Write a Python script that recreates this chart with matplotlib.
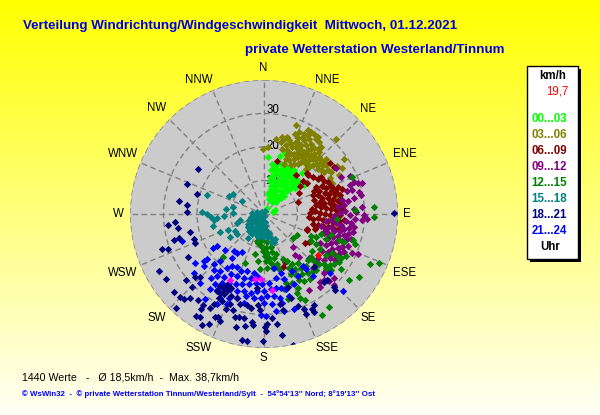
import numpy as np
import matplotlib
matplotlib.use('Agg')
import matplotlib.pyplot as plt

# wind vectors (east, north) in km/h
h00_03 = [(1.3,17.0),(4.8,17.2),(6.3,18.2),(7.8,21.2),(13.8,14.2),(11.3,12.2),(11.8,8.7),(9.3,7.7),(2.8,0.7),(3.3,1.2),(0.8,1.7),
(2.5,15),(3.2,14.2),(4,15.2),(5,14.8),(6,14.5),(7,14),(8,13.2),(9,13),(2,13.2),(3,13),(4,13.5),(5,13),(6,13.2),(7,12.5),(8,12),(9.5,11.5),
(2,11),(3,11.5),(4,11.8),(5,11.5),(6,11.2),(7,11),(8,10.8),(9,10.5),(10,10),(1.8,10),(3,10),(4.2,10),(5,10.2),(6,9.8),(7,9.5),(8,9.3),(9,9),
(2,8.5),(3,8.8),(4,8.5),(5,8.6),(6,8.4),(7,8),(8,7.8),(1.5,6.5),(2.2,7.5),(3,7),(4,7.2),(5,7),(6,6.8),(7,7),(1.2,6),(2,5.5),(3,5.8),(4,5.5),(5,5.6),(6,5.5),(2,4.5),(3,4.5),(4,4.2),(5,4.8),(3.5,3.5),(2.5,3.5),(1.5,4.5)]
h03_06 = [(9.5,26.5),(-0.2,19.4),(1.3,20),(3.5,22.4),(21.5,22.4),(23.8,16.4),(21.8,14.2),(23.3,13.7),(22.3,11.7),(19.8,10.7),(20.3,9.4),(21.8,5.2),
(9.2,23.8),(10,22.8),(9.5,21.5),(13,25),(14,24.5),(15,24),(16,23),(15.5,22.5),(13.5,22.5),(16.5,21.5),(14,21),(12.5,20.5),(11.5,23),(10.5,24.5),(7,23),(6,22.5),(5.5,23),(7.5,22),(5,21.5),(6.5,20.5),(5.5,19.5),(7,19),(8.5,20),(9.5,20),(11,20.5),(11,19),(10,18.5),(9,18),(8,18),(7,17.5),(6.5,16.5),(7.5,16),(6,15),(9,16.5),(10,17),(11,17.5),(12,18.5),(13,19),(14,19.5),(15,19.8),(16,19.5),(17,20),(16.5,18.5),(15,18),(14,17.5),(13,17.5),(12,16.5),(11,15.5),(10,15),(9,15),(8,14.5),(12.5,15),(13.5,16),(14.5,16.5),(15.5,16.5),(16.5,17),(17,16),(18,15.5),(18.5,14.5),(17.5,14.5),(16.5,14.8),(15.5,15),(14.5,14.5),(13.5,14),(12.5,13.5),(16,13.5),(17,13),(18,12.5),(19,13),(20,12.5),(18.5,16.5),(12,22),(10.5,21),(12,24),(13,23.5),(8,21),(10,19.5),(12.5,17.5)]
h06_09 = [(3.8,15.9),(10.8,8.4),(10.5,6.4),(10.1,3.7),(19.8,15.2),(20.8,14),(11.5,10),(12.8,9.2),(9.5,11.5),(12.8,12.2),(13.2,11.5),(14.5,11),(16,10.5),(17,11),(18,10),(19,9.5),(20,8.5),(21,7.5),(22,8),
(15.5,8.1),(17.2,8.3),(18.6,7.8),(20.2,7.2),(21.6,6.7),(23.2,7.4),(15,6.9),(16.4,7),(18.1,6.3),(19.5,6.1),(21.1,5.9),(22.6,5.6),(14.5,5.8),(16,5.6),(17.4,4.9),(19,4.7),(20.5,4.4),(22.1,3.9),(15,4.3),(16.6,3.6),(18,3.2),(19.6,3.4),(21,2.7),(23.1,3),(15.5,2.7),(17,2.1),(18.6,1.9),(20,1.4),(21.5,1.2),(23,1.6),(14.2,1.4),(13.8,0.2),(15.2,0.9),(16.6,0.4),(18.2,0.1),(19.6,-0.3),(21.2,-0.5),(22.8,-0.2),(13.5,-1),(14.6,-1.6),(16.2,-1.2),(17.7,-1.9),(19.2,-2),(20.7,-2.3),(22.3,-2.1),(24,-1.8),(14.5,-3),(16,-3.3),(17.5,-3.6),(19,-3.9),(20.5,-4.1),(22,-4.4),(15.3,-4.6),(18.2,-5.2),(12.8,-4.6),
(12.3,-8.6),(13.3,-8.3),(5.8,-15.8),(6.3,-14.3),(12.8,-4.8)]
h09_12 = [(25.8,11.2),(26.8,9.7),(28,9.4),(29.3,9.2),(25.8,8.7),(26.3,7.2),(28.3,6.7),(29,5.7),(26.8,4.7),(21.5,13.8),(23,11),(24.8,7),(29.3,2.2),(29.8,-0.3),(30.6,-1.6),(29.3,-1.8),(27.5,0.5),
(17,-3.5),(18.5,-4.4),(20,-3.8),(21.5,-2.8),(23,-3.2),(24.5,-2.2),(26,-2.6),(27.2,-1.5),(21,-0.5),(22.6,0.2),(24.2,0.8),(25.6,-0.4),(26.8,1.4),(24,2.6),(22.2,2.2),(23.2,4.2),(25.2,3.8),(18.6,-2.2),(20.2,-1.8),
(18,-5.8),(19.5,-5.9),(21,-5.2),(22.6,-5),(24,-4.5),(25.5,-4.2),(27,-3.8),(19,-7.2),(20.6,-7),(22.2,-6.6),(23.8,-6.2),(25.2,-6),(26.5,-5.5),(20,-8.8),(21.6,-8.4),(23.2,-8),(24.8,-7.6),(26,-7.4),(16.8,-8.6),(18.4,-9.2),(20.4,-10.4),(22,-10),(23.4,-9.8),(25,-9.5),(17.2,-11),(19,-11.2),(21,-11.8),(22.8,-11.6),(24,-11.4),(26.2,-11.7),(28,-12),(16.2,-13),(17.8,-13.6),(19.6,-13.2),(21.2,-13.6),(16.8,-21.8),(17.8,-19.8),(20.8,-21.3),(16.8,-20.3),(13.3,-22.8),(9.3,-12.3),(10.3,-12.8),(8.8,-9.8),(14.5,-16),(15.5,-15),(18,-17.5),(18.5,-16.8),(19.5,-20),(21,-19),(13.5,-13)]
h12_15 = [(32.8,2),(32.8,-1),(34.3,-14.5),(31.6,-14.8),(28.3,-18.8),(25.3,-19.6),(19.3,-27.8),(17.3,-30.1),(-12.2,-12.8),(-5.7,-14.5),(-1.7,-14.1),(-2.7,-11.8),(-1.9,-8.8),(9.8,-6.3),(8.8,-7.1),(27.3,1.2),(21.8,-1.6),(26.3,10.9),
(-2,-8),(-0.5,-7.8),(0.8,-8.5),(-1,-9.6),(0.5,-10),(2,-9.8),(-0.3,-11),(1,-11.5),(2.5,-11.2),(3.5,-12),(0.2,-12.5),(1.5,-13),(3,-13.2),(0.6,-14),(2.2,-14.5),(4,-14.8),(-1.2,-16.5),(0.8,-16),(2.6,-16.2),(4.5,-16.5),(5.8,-13.5),
(7,-14),(8.5,-14.8),(10,-14.5),(7.5,-16),(9.2,-16.5),(11,-16.2),(12.5,-15.5),(8,-18),(9.6,-18.2),(11.4,-17.8),(13,-17.6),(14.5,-17),(10.5,-19.8),(12,-20),(13.8,-19.5),(6.5,-20.5),(8.5,-20.6),(10,-22),(6,-22.5),(9.8,-23.5),(10.8,-25),(12.2,-25.8),(7.2,-25.4),
(14,-6.5),(15.5,-6.9),(17,-6),(18.5,-7.5),(20,-6.2),(22.5,-7.8),(24,-8.5),(26.5,-7.8),(27.2,-9),(14,-8.2),(15.5,-9),(16.6,-10.4),(14.2,-11),(14,-12.8),(18.5,-12.2),(20.2,-11.6),(21.7,-12.6),(23,-13),(24.5,-12.5),(13,-13.6),(15,-14),(16.5,-15),(17.8,-15),(19.8,-15.2),(21,-14.8),(22.5,-14.2),(18.6,-16),(20,-16.6),(15.5,-16.6),(23,-16.5)]
h15_18 = [(-17,5.7),(-10.4,5.4),(-9.2,5.9),(-6.7,3.9),(-11.2,1.4),(-9.2,2),(-9.4,0.2),(-18.4,0.7),(-17,-0),(-15.7,-0.8),(-13.9,-1.3),(-11.9,-0.6),(-14.9,-1.8),(-15.2,-3.5),(-13,-5.5),(-10.7,-4.8),(-8.2,-2.8),(-7.2,-1.8),(-8.7,-5.1),(-8,-6.1),(-10.2,-6.8),(-4.7,-7.3),
(-3.5,0.2),(-2,0.5),(-0.5,0.6),(0.3,0.8),(-4,-0.8),(-2.8,-0.5),(-1.5,-0.4),(0,-0.5),(-4.5,-1.8),(-3.3,-1.6),(-2,-1.7),(-0.7,-1.4),(-4.8,-2.9),(-3.6,-2.8),(-2.3,-2.7),(-1,-2.6),(0.3,-2.5),(-4.7,-4),(-3.5,-3.9),(-2.2,-3.8),(-0.9,-3.7),(0.4,-3.6),(-4.5,-5),(-3.2,-5),(-2,-4.9),(-0.7,-4.8),(0.6,-4.7),(-3.5,-6),(-2.3,-6),(-1,-5.8),(0.4,-5.8),(1.5,-5.6),(-1.8,-7),(-0.4,-6.8),(1,-6.9),(2,-7.2),(3,-8.5),(2.2,-8.5),(3.3,-7.6)]
h21_24 = [(-24.4,-8.1),(-15.2,-10),(-14,-9.5),(-11.5,-10.8),(-9,-11),(-8,-11.5),(-6.5,-11.2),(-17,-13.5),(-17.8,-14),(-15,-15),(-20.5,-14.5),(-21,-17.5),(-18,-15.5),(-19,-20.5),(-13,-14),(-9.5,-13),
(-15,-16.8),(-13,-17),(-11,-16.2),(-9.5,-15.5),(-8,-15.8),(-7,-17),(-5,-17),(-3,-17.5),(-15.8,-19),(-14,-18.5),(-12,-18.8),(-10,-18),(-8.2,-18.6),(-6,-19),(-4,-19),(-2,-18.5),(-14.5,-21),(-12.5,-20.5),(-10.5,-20.5),(-8.5,-20.8),(-6.5,-21),(-4.5,-21),(-2.5,-20.5),(-0.5,-20.8),(1.5,-20.5),(3.5,-19),(-16,-22.5),(-14,-22.8),(-12,-23),(-10,-22.5),(-8,-23),(-6,-23),(-4,-23.5),(-2,-23),(0,-23),(2,-22.5),(3.5,-22),(5,-22),(6.5,-22.5),(-13,-25),(-10.5,-25),(-8,-25),(-5.5,-24.5),(-3,-25),(-1,-25),(1,-24.5),(3,-24.5),(4.8,-25),(7.5,-24.5),(-17.5,-25.5),(-14,-27),(-11,-27),(-6,-26.5),(0,-26.5),(2.5,-27),(5.5,-26.5),(-0.8,-30),(0.5,-30.5),(9,-28.5),(3.5,-29),(6,-29),
(8.5,-17),(10,-18.5),(11.5,-15.5),(12.5,-16.5),(14.5,-18.5),(19.6,-17.5),(23.5,-23),(3,-16),(5,-17.5),(6,-19.5),(9,-21)]
h18_21 = [(-19.7,13.4),(-23,8.9),(-20,5.9),(-25.4,3.9),(-23,2.6),(-22.9,0.5),(-28.7,-3.3),(-26.7,-2.5),(-25.7,-4.3),(-22,-5.5),(-26.9,-7.8),(-25.4,-7.1),(-30.5,-10.3),(-28.7,-10.3),(-21,-7.5),(-20.7,-8.8),(-22.7,-12.8),(-31.4,-17.1),(-29.2,-19.3),(-23.4,-19.8),(-26.9,-23.3),(-25.2,-24.8),(-24,-25.4),(-26.4,-28),(-22,-25),(-19.7,-25.8),(-21.5,-21.8),(-20.7,-18.8),(-19.2,-18.8),(-20.4,-30.3),(-19.2,-30.8),(-18.4,-33.1),(-16.4,-32.8),(-18.7,-28.3),(-18.2,-27.3),(-14.7,-30.8),(-13.2,-31.8),(-13.7,-30.8),(-11.2,-28.3),(-10.2,-26.8),(-8.7,-30.6),(-7.4,-30.6),(-8.5,-33.6),(-5.7,-33.3),(-3.7,-32.3),(-3.2,-33.1),(-6.7,-37.6),(-5,-38),(-0.2,-38),(8.8,-39.1),(5.5,-36),(0.3,-33.8),(0.8,-32.8),(3.8,-32.8),(5.8,-28.8),(14.8,-29.3),(14.3,-28.3),(12.5,-29.8),(-1.7,-27.3),(-1.2,-28.8),(-5.2,-27.3),(-7.2,-26.8),(-9.2,-28.8),
(-13,-21.5),(-12,-22.3),(-11,-21.2),(-14,-23),(-13,-23.5),(-12,-24),(-11,-23),(-10,-22),(-13.5,-25),(-10,-24.5),(-12.5,-26),(18.8,-19.8),(17.8,-20.3),(20.8,-21.8),(21.3,-22.8),(14.8,-27.3),(4.8,-26.8),(7.3,-21.8),(14.8,-15.8),(-2,-22),(-4,-28),(-8,-25),(-6,-31),(0.5,-35),(2.5,-31),(-15,-27),(38.8,0.2),(8,-25),(10,-27.5),(12,-28.5),(-16,-28)]
h_other = [(-10.2,-19.6),(-2.7,-19.5),(-0.9,-19.3),(2.5,-22.8)]
h_now = [(16,-12.1)]

series = [('#00FF00',h00_03),('#808000',h03_06),('#800000',h06_09),('#800080',h09_12),('#008000',h12_15),
          ('#008080',h15_18),('#0000FF',h21_24),('#000080',h18_21),('#FF00FF',h_other),('#FF0000',h_now)]
dirs = ['N','NNE','NE','ENE','E','ESE','SE','SSE','S','SSW','SW','WSW','W','WNW','NW','NNW']
rings = [10,20,30]
legend_rows = [('00...03','#00FF00'),('03...06','#808000'),('06...09','#800000'),('09...12','#800080'),
               ('12...15','#008000'),('15...18','#008080'),('18...21','#000080'),('21...24','#0000FF')]

plt.rcParams['font.family'] = ['Liberation Sans','DejaVu Sans']
W,H = 600,415
fig = plt.figure(figsize=(W/100,H/100),dpi=100)

bg = fig.add_axes([0,0,1,1],zorder=0)
grad = np.zeros((256,1,3)); grad[...,0]=1; grad[...,1]=1; grad[:,0,2]=np.linspace(0,0.96,256)
bg.imshow(grad,aspect='auto',extent=[0,W,H,0])
bg.set_xlim(0,W); bg.set_ylim(H,0); bg.axis('off')

cx,cy,R = 264,214,134
ax = fig.add_axes([(cx-R)/W,(H-cy-R)/H,2*R/W,2*R/H],projection='polar',zorder=1)
ax.set_theta_zero_location('N'); ax.set_theta_direction(-1)
ax.set_facecolor('#CBCBCB'); ax.set_ylim(0,40)
ax.spines['polar'].set_visible(False)
ax.set_xticks(np.deg2rad(np.arange(16)*22.5)); ax.set_xticklabels([])
ax.set_yticks([10,20,30,40]); ax.set_yticklabels([])
ax.tick_params(length=0)
ax.grid(True,color='#808080',lw=1,ls=(0,(4,2.5)))
ax.set_axisbelow(True)
for r,ang,rr in zip(rings,(14,7.5,5),(10,20.6,31.1)):
    ax.text(np.deg2rad(ang),rr,str(r),fontsize=8.3,ha='center',va='center',color='black',zorder=1.5)
for col,pts in series:
    a = np.array(pts,dtype=float)
    ax.scatter(np.arctan2(a[:,0],a[:,1]),np.hypot(a[:,0],a[:,1]),marker='D',s=14,c=col,linewidths=0,zorder=3)

ov = fig.add_axes([0,0,1,1],zorder=2); ov.set_xlim(0,W); ov.set_ylim(H,0); ov.axis('off'); ov.patch.set_alpha(0)
label_xy = [(263,68),(327,80),(368,109),(405,154),(407,214),(405,273),(368,318),(327,348),(263,358),(199,348),(157,318),(123,273),(118,214),(123,154),(157,108),(199,80)]
for d,(x,y) in zip(dirs,label_xy):
    ov.text(x,y,d,fontsize=8.3,ha='center',va='center',color='black')
ov.text(23,25.5,'Verteilung Windrichtung/Windgeschwindigkeit  Mittwoch, 01.12.2021',fontsize=9.6,fontweight='bold',color='#0000E8',va='center',ha='left')
ov.text(245,49.5,'private Wetterstation Westerland/Tinnum',fontsize=9.6,fontweight='bold',color='#0000E8',va='center',ha='left')
ov.text(22,377,'1440 Werte   -   Ø 18,5km/h  -  Max. 38,7km/h',fontsize=7.7,color='black',va='center',ha='left')
ov.text(22,394.5,"© WsWin32  -  © private Wetterstation Tinnum/Westerland/Sylt  -  54°54'13'' Nord; 8°19'13'' Ost",fontsize=5.7,fontweight='bold',color='#0000FF',va='center',ha='left')
ov.add_patch(plt.Rectangle((530,69),51,193,fc='black',ec='none'))
ov.add_patch(plt.Rectangle((527,66),51,193,fc='white',ec='black',lw=1))
ov.text(553,76,'km/h',fontsize=8.3,fontweight='bold',ha='center',va='center',color='black')
ov.text(557,92,'19,7',fontsize=8.3,ha='center',va='center',color='#FF0000')
for k,(t,c) in enumerate(legend_rows):
    ov.text(549,119+16*k,t,fontsize=8.3,fontweight='bold',ha='center',va='center',color=c)
ov.text(550,247,'Uhr',fontsize=8.3,fontweight='bold',ha='center',va='center',color='black')
fig.savefig('out.png',dpi=100)
